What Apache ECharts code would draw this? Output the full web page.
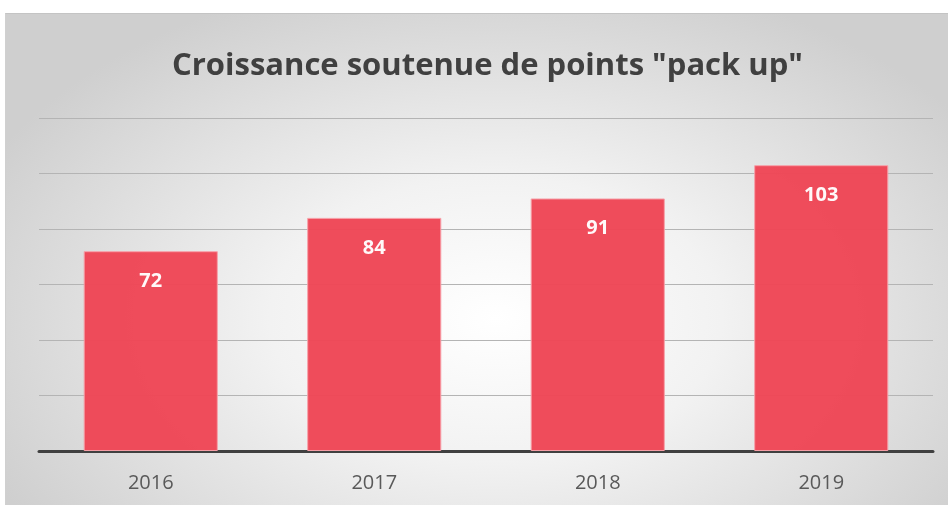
<!DOCTYPE html>
<html>
<head>
<meta charset="utf-8">
<script src="https://cdn.jsdelivr.net/npm/echarts@6/dist/echarts.min.js"></script>
<style>
  html, body { margin: 0; padding: 0; background: #ffffff; }
  #chart {
    position: absolute; left: 5px; top: 13px; width: 943px; height: 492px;
    border-top: 1px solid #c4c4c4; border-left: 1px solid #d0d0d0;
    box-sizing: border-box;
    background: radial-gradient(ellipse 60% 72% at 52% 62%, #ffffff 0%, #f2f2f2 40%, #cfcfcf 100%);
  }
</style>
</head>
<body>
<div id="chart"></div>
<script>
const years = ["2016", "2017", "2018", "2019"];
const points = [72, 84, 91, 103];
const yTicks = { min: 0, max: 120, interval: 20 };

const chart = echarts.init(document.getElementById("chart"), undefined, { renderer: "canvas" });
chart.setOption({
  animation: false,
  title: {
    text: 'Croissance soutenue de points "pack up"',
    left: 161,
    top: 32,
    textStyle: { fontFamily: "Open Sans", fontWeight: "bold", fontSize: 31, color: "#404040" },
  },
  grid: { left: 33, right: 15, top: 104, bottom: 54 },
  xAxis: {
    type: "category",
    data: years,
    axisLine: { lineStyle: { color: "#404040", width: 3 } },
    axisTick: { show: false },
    axisLabel: { color: "#595959", fontSize: 20, fontFamily: "Open Sans", margin: 22 },
  },
  yAxis: {
    type: "value",
    min: yTicks.min,
    max: yTicks.max,
    interval: yTicks.interval,
    axisLabel: { show: false },
    axisLine: { show: false },
    axisTick: { show: false },
    splitLine: { lineStyle: { color: "#b4b4b4", width: 1 } },
  },
  series: [
    {
      type: "bar",
      data: points,
      barCategoryGap: "40%",
      itemStyle: { color: "#ee4656", borderColor: "#f7a0a8", borderWidth: 1, opacity: 0.97 },
      label: {
        show: true,
        position: "insideTop",
        distance: 20,
        color: "#ffffff",
        fontWeight: "bold",
        fontSize: 20,
        fontFamily: "Open Sans",
      },
    },
  ],
});
</script>
</body>
</html>
